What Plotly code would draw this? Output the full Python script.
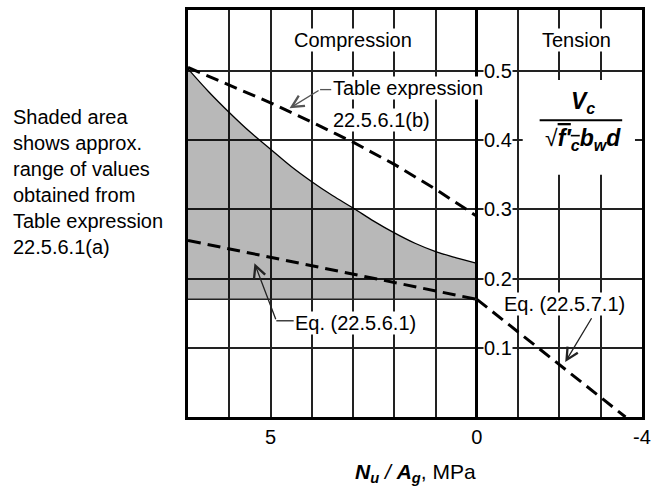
import plotly.graph_objects as go

# Nu/Ag in MPa (compression positive, axis runs 7 -> -4)
x_range = [7, -4]
y_range = [0, 0.588]

# upper edge of shaded band - Table expression 22.5.6.1(a)
shade_x = [7, 6.5, 6, 5.5, 5, 4.5, 4, 3.5, 3, 2.5, 2, 1.5, 1, 0.5, 0]
shade_top = [0.503, 0.47, 0.44, 0.412, 0.387, 0.362, 0.34, 0.32, 0.302, 0.283, 0.266, 0.251, 0.239, 0.23, 0.222]
# lower edge of shaded band
base_x = [7, 0]
base_y = [0.17, 0.17]

# Table expression 22.5.6.1(b)
tbl_b_x = [7, 6, 5, 4, 3, 2, 1, 0]
tbl_b_y = [0.505, 0.48, 0.454, 0.426, 0.397, 0.365, 0.329, 0.29]

# Eq. (22.5.6.1)
eq561_x = [7, 0]
eq561_y = [0.255, 0.17]

# Eq. (22.5.7.1)
eq571_x = [0, -3.6]
eq571_y = [0.17, 0.0]

x_tick_vals = [5, 0, -4]
x_tick_text = ["5", "0", "-4"]
y_tick_vals = [0.1, 0.2, 0.3, 0.4, 0.5]
y_tick_text = ["0.1", "0.2", "0.3", "0.4", "0.5"]

FONT = "Liberation Sans, Arial, sans-serif"
GRID = "#222222"
dash_line = dict(color="black", width=3, dash="13px,7px")

fig = go.Figure()

fig.add_trace(go.Scatter(x=base_x, y=base_y, mode="lines",
                         line=dict(color=GRID, width=1.5), hoverinfo="skip"))
fig.add_trace(go.Scatter(x=shade_x, y=shade_top, mode="lines", fill="tonexty",
                         fillcolor="rgba(0,0,0,0.28)",
                         line=dict(color="black", width=1.3, shape="spline"),
                         hoverinfo="skip"))
fig.add_trace(go.Scatter(x=tbl_b_x, y=tbl_b_y, mode="lines", line=dash_line, hoverinfo="skip"))
fig.add_trace(go.Scatter(x=eq561_x, y=eq561_y, mode="lines", line=dash_line, hoverinfo="skip"))
fig.add_trace(go.Scatter(x=eq571_x, y=eq571_y, mode="lines", line=dash_line, hoverinfo="skip"))

txt = dict(family=FONT, size=20, color="black")
arrow = dict(text="", showarrow=True, arrowhead=5, arrowsize=1.8, arrowwidth=1.3,
             axref="x", ayref="y")

# y tick labels sit on the Nu/Ag = 0 line
for v, t in zip(y_tick_vals, y_tick_text):
    fig.add_annotation(x=0, y=v, xref="x", yref="y", text=t, showarrow=False,
                       xanchor="left", xshift=6, bgcolor="white", borderpad=0, font=txt)

fig.add_annotation(x=3.0, y=0.545, text="Compression", showarrow=False,
                   bgcolor="white", borderpad=0, font=txt)
fig.add_annotation(x=-2.41, y=0.545, text="Tension", showarrow=False,
                   bgcolor="white", borderpad=0, font=txt)

# Table expression 22.5.6.1(b) label
fig.add_annotation(x=3.51, y=0.476, text="Table expression", showarrow=False,
                   xanchor="left", bgcolor="white", borderpad=0, font=txt)
fig.add_annotation(x=3.51, y=0.4288, text="22.5.6.1(b)", showarrow=False,
                   xanchor="left", bgcolor="white", borderpad=0, font=txt)
fig.add_annotation(x=4.54, y=0.446, ax=3.80, ay=0.473, arrowcolor="#555", **arrow)
fig.add_shape(type="line", x0=3.80, y0=0.473, x1=3.53, y1=0.473,
              line=dict(color="#555", width=1.3))

# Eq. (22.5.6.1) label
fig.add_annotation(x=4.42, y=0.136, text="Eq. (22.5.6.1)", showarrow=False,
                   xanchor="left", bgcolor="white", borderpad=0, font=txt)
fig.add_annotation(x=5.39, y=0.2223, ax=4.86, ay=0.139, arrowcolor="#222", **arrow)
fig.add_shape(type="line", x0=4.86, y0=0.139, x1=4.44, y1=0.139,
              line=dict(color="#222", width=1.3))

# Eq. (22.5.7.1) label
fig.add_annotation(x=-0.63, y=0.1635, text="Eq. (22.5.7.1)", showarrow=False,
                   xanchor="left", bgcolor="white", borderpad=0, font=txt)
fig.add_annotation(x=-2.14, y=0.0793, ax=-2.80, ay=0.1448, arrowcolor="#222", **arrow)

# y quantity written as a fraction in the tension panel
fig.add_shape(type="rect", x0=-1.11, x1=-3.83, y0=0.35, y1=0.487, layer="above",
              fillcolor="white", line=dict(width=0))
fig.add_annotation(x=-2.58, y=0.4546, text="<b><i>V<sub>c</sub></i></b>",
                   showarrow=False, font=dict(family=FONT, size=23, color="black"))
fig.add_shape(type="line", x0=-1.52, x1=-3.52, y0=0.4288, y1=0.4288, layer="above",
              line=dict(color="black", width=2))
fig.add_annotation(x=-2.58, y=0.4015,
                   text="√<span style='text-decoration:overline'><b><i>f′<sub>c</sub></i></b></span>"
                        "<b><i>b<sub>w</sub>d</i></b>",
                   showarrow=False, font=dict(family=FONT, size=23, color="black"))

# note on the left
fig.add_annotation(x=-0.39, y=0.339, xref="paper", yref="y", xanchor="left",
                   yanchor="middle", align="left", showarrow=False, font=txt,
                   text="Shaded area<br>shows approx.<br>range of values<br>"
                        "obtained from<br>Table expression<br>22.5.6.1(a)")

# x axis title
fig.add_annotation(x=0.5, y=-0.138, xref="paper", yref="paper", yanchor="middle",
                   showarrow=False, font=dict(family=FONT, size=21, color="black"),
                   text="<b><i>N<sub>u</sub></i></b><i> / </i><b><i>A<sub>g</sub></i></b>, MPa")

fig.update_layout(
    width=658, height=486,
    margin=dict(l=188, r=13, t=7, b=69),
    plot_bgcolor="white", paper_bgcolor="white",
    showlegend=False,
    xaxis=dict(range=x_range, tickmode="array", tickvals=x_tick_vals, ticktext=x_tick_text,
               tickfont=txt, ticks="", showgrid=True, gridcolor=GRID, gridwidth=1.5,
               minor=dict(tickmode="linear", tick0=0, dtick=1, showgrid=True,
                          gridcolor=GRID, gridwidth=1.5),
               zeroline=True, zerolinecolor="black", zerolinewidth=2.5,
               showline=True, mirror=True, linecolor="black", linewidth=2.5),
    yaxis=dict(range=y_range, tickmode="array", tickvals=y_tick_vals, ticktext=y_tick_text,
               showticklabels=False, ticks="", showgrid=True, gridcolor=GRID, gridwidth=1.5,
               zeroline=False, showline=True, mirror=True, linecolor="black", linewidth=2.5),
)

# drop the default page margin so the figure sits at the window's corner
fig.write_html("out.html", config={"displayModeBar": False},
               post_script="document.body.style.margin='0';")
